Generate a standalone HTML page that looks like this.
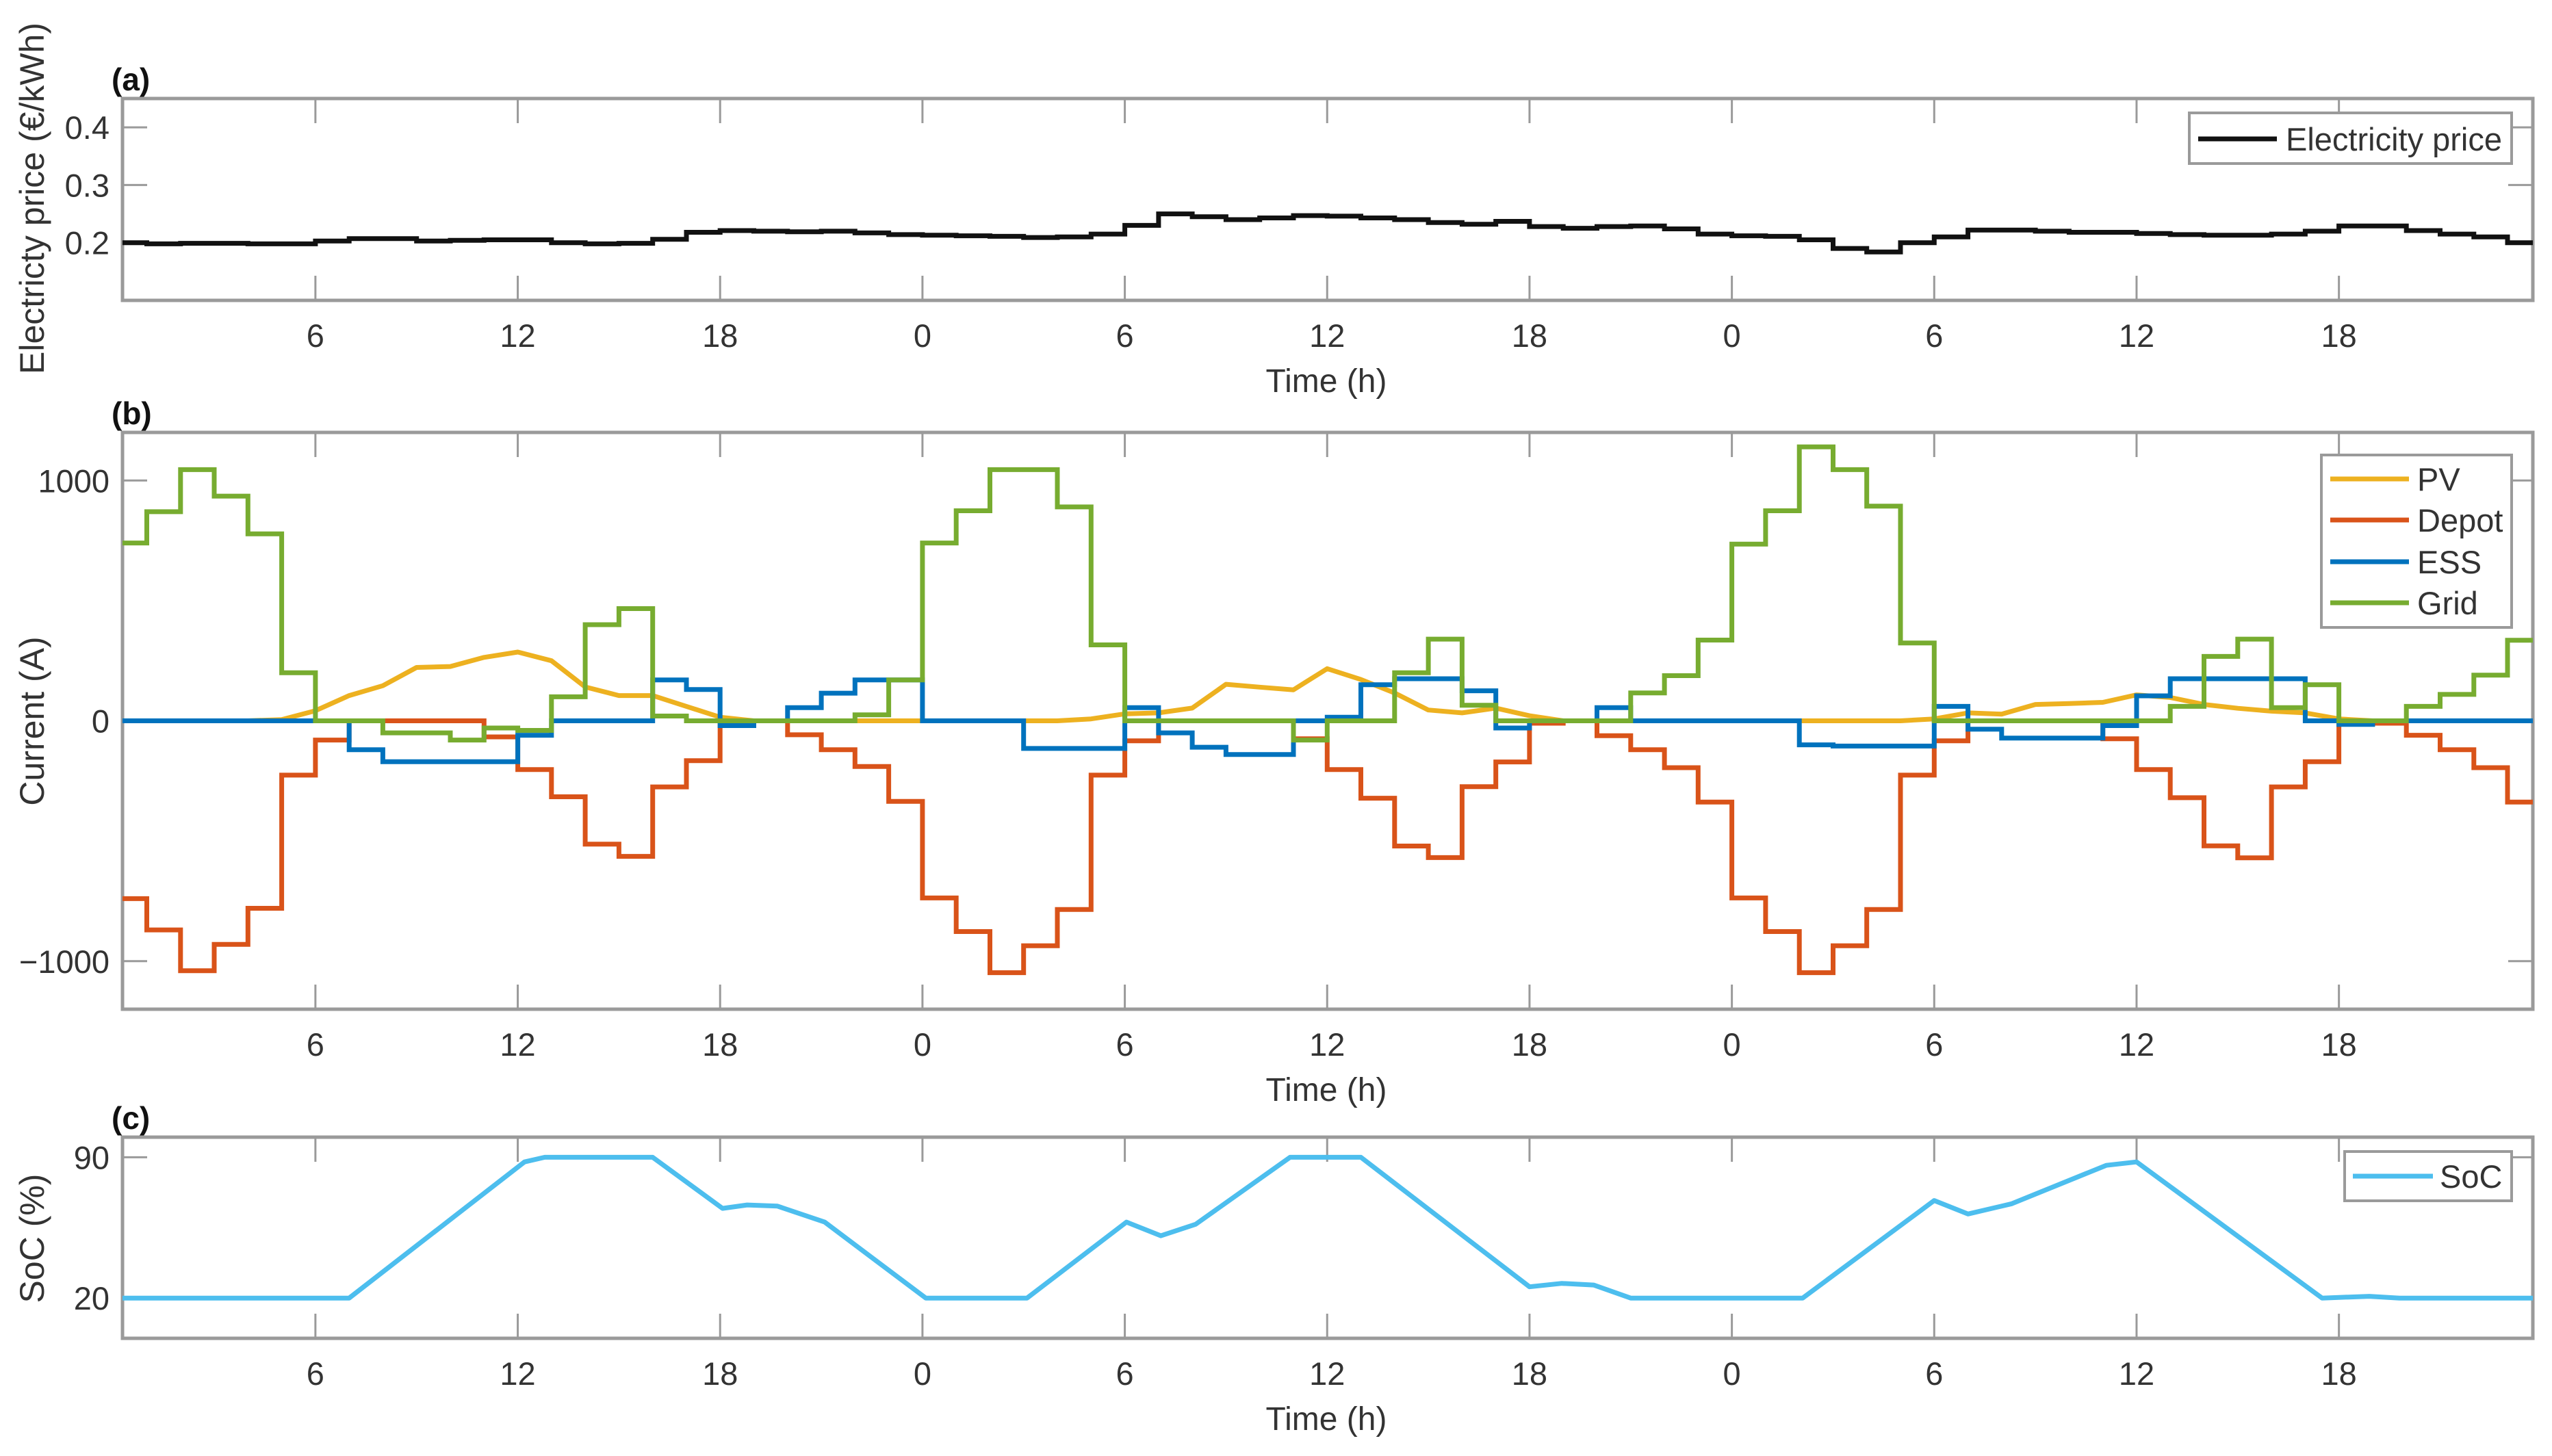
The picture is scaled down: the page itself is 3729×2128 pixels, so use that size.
<!DOCTYPE html>
<html><head><meta charset="utf-8">
<style>
html,body{margin:0;padding:0;background:#fff;}
svg{display:block;font-family:"Liberation Sans",Arial,sans-serif;}
</style></head>
<body>
<svg id="fig" width="3729" height="2128" viewBox="0 0 3729 2128" xmlns="http://www.w3.org/2000/svg"></svg>
<script>
// ---------- data ----------
const hours = Array.from({length:72},(_,i)=>i); // step start hours
const priceValues = [0.2,0.198,0.199,0.199,0.198,0.198,0.203,0.207,0.207,0.203,0.204,0.205,0.205,0.2,0.198,0.199,0.206,0.218,0.221,0.22,0.219,0.22,0.217,0.214,
 0.213,0.212,0.211,0.209,0.21,0.215,0.23,0.25,0.245,0.24,0.243,0.247,0.246,0.243,0.24,0.235,0.232,0.237,0.228,0.225,0.228,0.229,0.224,0.215,
 0.212,0.211,0.205,0.19,0.184,0.2,0.21,0.222,0.222,0.22,0.218,0.218,0.216,0.214,0.213,0.213,0.215,0.22,0.229,0.229,0.221,0.215,0.21,0.2];
const pvValues = [0,0,0,0,0,5,42,105,146,222,226,264,286,250,141,105,105,60,15,0,0,0,0,0,
 0,0,0,0,0,8,29,33,53,152,140,129,217,172,116,45,33,53,21,0,0,0,0,0,
 0,0,0,0,0,0,8,33,28,68,72,77,108,97,68,52,40,33,8,0,0,0,0,0,0];
const depotValues = [-740,-870,-1040,-930,-780,-226,-80,0,0,0,0,-67,-203,-316,-513,-564,-275,-166,0,0,-58,-120,-190,-335,
 -737,-877,-1048,-936,-785,-226,-83,0,0,0,0,-75,-203,-322,-521,-569,-274,-171,-10,0,-62,-120,-195,-338,
 -737,-877,-1048,-936,-785,-226,-83,0,0,0,0,-75,-203,-320,-520,-570,-275,-170,0,-10,-60,-120,-195,-338];
const essValues = [0,0,0,0,0,0,0,-120,-170,-170,-170,-170,-60,0,0,0,170,130,-20,0,55,115,170,170,
 0,0,0,-115,-115,-115,55,-50,-110,-140,-140,0,15,150,175,175,125,-30,0,0,55,0,0,0,
 0,0,-100,-105,-105,-105,60,-35,-72,-72,-72,-20,104,175,175,175,175,0,-15,0,0,0,0,0];
const gridValues = [740,870,1045,935,778,200,0,0,-50,-50,-80,-30,-40,100,400,467,20,0,0,0,0,0,25,170,
 740,874,1045,1045,890,316,0,0,0,0,0,-80,0,0,200,340,65,0,0,0,0,116,188,336,
 735,874,1140,1045,893,324,0,0,0,0,0,0,0,60,268,340,55,150,0,0,60,110,190,335];
const socHours = [0.28,7.0,12.2,12.8,16.0,18.07,18.8,19.7,21.1,24.1,27.1,30.05,31.07,32.1,34.9,37.0,42.0,42.96,43.9,45.0,50.1,54.0,55.0,56.3,59.1,60.0,65.5,66.9,67.8,71.75];
const socValues = [20,20,87.7,90,90,64.6,66.3,65.7,57.8,20,20,57.8,51,56.7,90,90,25.6,27.3,26.5,20,20,68.5,61.8,66.9,86,87.7,20,20.9,20,20];
const xTickValues = [6,12,18,24,30,36,42,48,54,60,66];
const xTickLabels = ["6","12","18","0","6","12","18","0","6","12","18"];
const priceTicks = [0.2,0.3,0.4];
const currentTicks = [-1000,0,1000];
const socTicks = [20,90];

// ---------- layout ----------
const NS="http://www.w3.org/2000/svg";
const svg=document.getElementById('fig');
const L=179,R=3701,H0=0.28,H1=71.75;
const x=h=>L+(h-H0)/(H1-H0)*(R-L);
const panels={
 a:{top:144,bot:439,min:0.1,max:0.45},
 b:{top:632,bot:1475,min:-1200,max:1200},
 c:{top:1662,bot:1956,min:0,max:100}
};
const yOf=(p,v)=>p.bot-(v-p.min)/(p.max-p.min)*(p.bot-p.top);
function el(tag,attrs,parent){const e=document.createElementNS(NS,tag);for(const k in attrs)e.setAttribute(k,attrs[k]);(parent||svg).appendChild(e);return e;}
function txt(s,attrs,parent){const t=el('text',attrs,parent);t.textContent=s;return t;}
const clip=h=>Math.min(H1,Math.max(H0,h));
function stepPath(p,vals){
  let d='';
  vals.forEach((v,i)=>{
    const a=clip(hours[i]),b=clip(hours[i]+1);
    if(b<=a)return;
    const yy=yOf(p,v).toFixed(1);
    d+=(d===''?'M':'L')+x(a).toFixed(1)+','+yy+'L'+x(b).toFixed(1)+','+yy;
  });
  return d;
}
function linePath(p,hs,vals){
  return hs.map((h,i)=>(i?'L':'M')+x(clip(h)).toFixed(1)+','+yOf(p,vals[i]).toFixed(1)).join('');
}
const AX='#9a9a9a', TX='#333333';
function axes(key,p,yt,ylab,ylabY,plabel,plabelY){
  const g=el('g',{});
  
  
  const fr=el('rect',{x:L,y:p.top,width:R-L,height:p.bot-p.top,fill:'none',stroke:AX,'stroke-width':5},g);
  
  
  xTickValues.forEach((h,i)=>{
    const xx=x(h);
    el('line',{x1:xx,y1:p.bot,x2:xx,y2:p.bot-36,stroke:AX,'stroke-width':3},g);
    el('line',{x1:xx,y1:p.top,x2:xx,y2:p.top+36,stroke:AX,'stroke-width':3},g);
    const t=txt(xTickLabels[i],{x:xx,y:p.bot+68,'text-anchor':'middle','font-size':47,fill:TX},g);
    
    
  });
  yt.forEach(v=>{
    const yy=yOf(p,v);
    el('line',{x1:L,y1:yy,x2:L+36,y2:yy,stroke:AX,'stroke-width':3},g);
    el('line',{x1:R,y1:yy,x2:R-36,y2:yy,stroke:AX,'stroke-width':3},g);
    const lab=(v<0?'\u2212'+Math.abs(v):String(v));
    const t=txt(lab,{x:160,y:yy+17,'text-anchor':'end','font-size':47,fill:TX},g);
    
    
  });
  const xt=txt('Time (h)',{x:1938,y:p.bot+134,'text-anchor':'middle','font-size':48,fill:TX},g);
  
  
  const ytl=txt(ylab,{x:0,y:0,transform:`translate(64,${ylabY}) rotate(-90)`,'text-anchor':'middle','font-size':50,fill:TX},g);
  
  
  const pl=txt(plabel,{x:163,y:plabelY,'font-size':46,'font-weight':'bold',fill:'#111'},g);
  
  
}
axes('a',panels.a,priceTicks,'Electricty price (\u20ac/kWh)',290,'(a)',132);
axes('b',panels.b,currentTicks,'Current (A)',1054,'(b)',620);
axes('c',panels.c,socTicks,'SoC (%)',1810,'(c)',1650);

// ---------- series ----------
const s1=el('path',{d:stepPath(panels.a,priceValues),fill:'none',stroke:'#111','stroke-width':7});


const pvH=pvValues.map((_,i)=>i);
const s2=el('path',{d:linePath(panels.b,pvH,pvValues),fill:'none',stroke:'#EDB120','stroke-width':7,'stroke-linejoin':'round'});


const s3=el('path',{d:stepPath(panels.b,depotValues),fill:'none',stroke:'#D95319','stroke-width':7});


const s4=el('path',{d:stepPath(panels.b,essValues),fill:'none',stroke:'#0072BD','stroke-width':7});


const s5=el('path',{d:stepPath(panels.b,gridValues),fill:'none',stroke:'#77AC30','stroke-width':7});


const s6=el('path',{d:linePath(panels.c,socHours,socValues),fill:'none',stroke:'#4DBEEE','stroke-width':7,'stroke-linejoin':'round'});



// ---------- legends ----------
function legend(name,bx,by,bw,bh,items,lx1,lx2,tx){
  const g=el('g',{});
  
  
  el('rect',{x:bx,y:by,width:bw,height:bh,fill:'#fff',stroke:AX,'stroke-width':4},g);
  items.forEach(it=>{
    const ln=el('line',{x1:lx1,y1:it.y,x2:lx2,y2:it.y,stroke:it.c,'stroke-width':7},g);
    
    
    const t=txt(it.t,{x:tx,y:it.y+17,'font-size':47,fill:TX},g);
    
    
  });
}
legend('legend-price',3199,165,471,74,[{t:'Electricity price',c:'#111',y:203}],3212,3327,3340);
legend('legend-current',3392,665,278,252,[{t:'PV',c:'#EDB120',y:700},{t:'Depot',c:'#D95319',y:760},{t:'ESS',c:'#0072BD',y:821},{t:'Grid',c:'#77AC30',y:881}],3405,3520,3532);
legend('legend-soc',3426,1683,244,72,[{t:'SoC',c:'#4DBEEE',y:1719}],3438,3555,3565);
</script>
</body></html>
